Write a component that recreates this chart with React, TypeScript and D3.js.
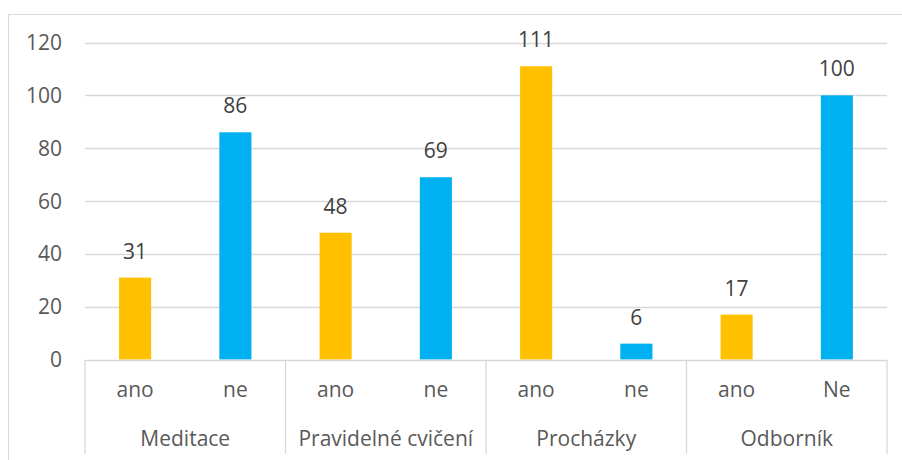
import React, { useEffect, useRef } from 'react';
import * as d3 from 'd3';

const groups = ['Meditace', 'Pravidelné cvičení', 'Procházky', 'Odborník'];
const answers = ['ano', 'ne', 'ano', 'ne', 'ano', 'ne', 'ano', 'Ne'];
const values = [31, 86, 48, 69, 111, 6, 17, 100];
const yTicks = [0, 20, 40, 60, 80, 100, 120];

const W = 902;
const H = 460;

export default function App() {
  const ref = useRef<SVGSVGElement>(null);

  useEffect(() => {
    const svg = d3.select(ref.current);
    svg.selectAll('*').remove();
    const font = '"Open Sans", sans-serif';
    const fs = 21;
    const grey = '#d9d9d9';
    const text = '#595959';

    // outer frame
    svg
      .append('rect')
      .attr('x', 8.5)
      .attr('y', 14.5)
      .attr('width', 900)
      .attr('height', 460)
      .attr('fill', 'white')
      .attr('stroke', grey);

    const left = 85;
    const right = 887;
    const y = d3.scaleLinear().domain([0, 120]).range([359.5, 42.5]);
    const idx = d3.range(values.length);
    const x = d3.scaleBand<number>().domain(idx).range([left, right]).paddingInner(0.68).paddingOuter(0.34);
    const step = (right - left) / values.length;

    // gridlines
    svg
      .append('g')
      .selectAll('line')
      .data(yTicks.filter(t => t > 0))
      .join('line')
      .attr('x1', left)
      .attr('x2', right)
      .attr('y1', d => Math.round(y(d)) + 0.5)
      .attr('y2', d => Math.round(y(d)) + 0.5)
      .attr('stroke', grey)
      .attr('stroke-width', 1.3);

    // y labels
    svg
      .append('g')
      .selectAll('text')
      .data(yTicks)
      .join('text')
      .attr('x', 62)
      .attr('y', d => y(d) + 7.5)
      .attr('text-anchor', 'end')
      .attr('font-family', font)
      .attr('font-size', fs)
      .attr('fill', text)
      .text(d => d);

    // bars
    svg
      .append('g')
      .selectAll('rect')
      .data(idx)
      .join('rect')
      .attr('x', i => x(i)!)
      .attr('width', x.bandwidth())
      .attr('y', i => y(values[i]))
      .attr('height', i => y(0) - y(values[i]))
      .attr('fill', i => (i % 2 === 0 ? '#FFC000' : '#00B0F0'));

    // value labels
    svg
      .append('g')
      .selectAll('text')
      .data(idx)
      .join('text')
      .attr('x', i => x(i)! + x.bandwidth() / 2)
      .attr('y', i => y(values[i]) - 19)
      .attr('text-anchor', 'middle')
      .attr('font-family', font)
      .attr('font-size', fs)
      .attr('fill', '#404040')
      .text(i => values[i]);

    // category axis
    const axis = svg.append('g');
    axis
      .append('line')
      .attr('x1', left)
      .attr('x2', right)
      .attr('y1', 360.5)
      .attr('y2', 360.5)
      .attr('stroke', grey)
      .attr('stroke-width', 1.3);
    axis
      .selectAll('line.sep')
      .data(d3.range(groups.length + 1))
      .join('line')
      .attr('class', 'sep')
      .attr('x1', g => left + g * step * 2)
      .attr('x2', g => left + g * step * 2)
      .attr('y1', 360)
      .attr('y2', 454)
      .attr('stroke', grey)
      .attr('stroke-width', 1.3);
    axis
      .selectAll('text.ans')
      .data(idx)
      .join('text')
      .attr('class', 'ans')
      .attr('x', i => x(i)! + x.bandwidth() / 2)
      .attr('y', 397)
      .attr('text-anchor', 'middle')
      .attr('font-family', font)
      .attr('font-size', fs)
      .attr('fill', text)
      .text(i => answers[i]);
    axis
      .selectAll('text.grp')
      .data(groups)
      .join('text')
      .attr('class', 'grp')
      .attr('x', (d, g) => left + g * step * 2 + step)
      .attr('y', 446)
      .attr('text-anchor', 'middle')
      .attr('font-family', font)
      .attr('font-size', fs)
      .attr('fill', text)
      .text(d => d);
  }, []);

  return (
    <div style={{ position: 'absolute', left: 0, top: 0 }}>
      <svg ref={ref} width={W} height={H} style={{ display: 'block' }} />
    </div>
  );
}
